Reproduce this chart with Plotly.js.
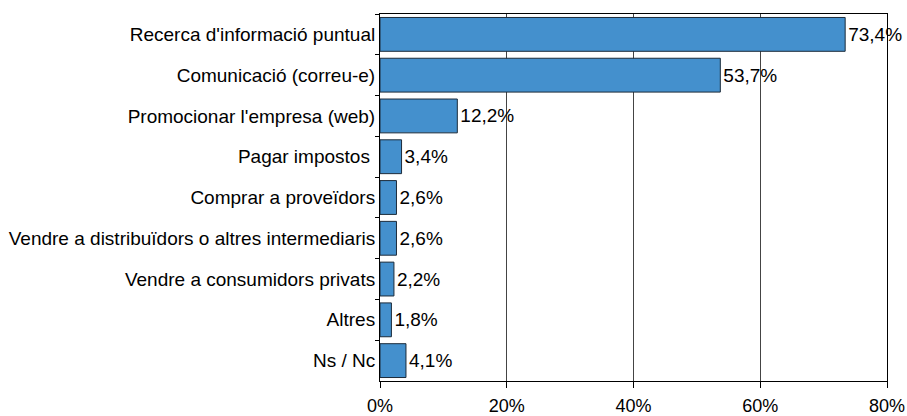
<!DOCTYPE html>
<html><head><meta charset="utf-8">
<script src="https://cdn.plot.ly/plotly-3.0.1.min.js"></script>
<style>html,body{margin:0;padding:0;background:#fff}#c{width:907px;height:416px}</style>
</head><body><div id="c"></div>
<script>
var categories = ["Recerca d'informació puntual","Comunicació (correu-e)","Promocionar l'empresa (web)","Pagar impostos ","Comprar a proveïdors","Vendre a distribuïdors o altres intermediaris","Vendre a consumidors privats","Altres","Ns / Nc"];
var values = [73.4, 53.7, 12.2, 3.4, 2.6, 2.6, 2.2, 1.8, 4.1];
var valueLabels = ["73,4%","53,7%","12,2%","3,4%","2,6%","2,6%","2,2%","1,8%","4,1%"];
var xTickVals = [0, 20, 40, 60, 80];
var xTickText = ["0%","20%","40%","60%","80%"];

Plotly.newPlot('c', [{
  type: 'bar', orientation: 'h',
  y: categories, x: values, text: valueLabels,
  textposition: 'outside', cliponaxis: false,
  textfont: {family: 'Liberation Sans, Arial, sans-serif', size: 19, color: '#000'},
  marker: {color: '#4490cd', line: {color: '#1c2b3a', width: 1}},
  hoverinfo: 'none'
}], {
  width: 907, height: 416,
  margin: {l: 380, r: 20, t: 14, b: 35},
  paper_bgcolor: '#fff', plot_bgcolor: '#fff',
  bargap: 0.17,
  showlegend: false,
  font: {family: 'Liberation Sans, Arial, sans-serif', color: '#000'},
  xaxis: {
    range: [0, 80], tickvals: xTickVals, ticktext: xTickText,
    ticks: 'outside', ticklen: 6, tickcolor: '#000', tickwidth: 1,
    showgrid: true, gridcolor: '#444', gridwidth: 1,
    showline: true, linecolor: '#000', linewidth: 1, mirror: true,
    zeroline: false, tickfont: {size: 18}, ticklabelstandoff: 2, fixedrange: true
  },
  yaxis: {
    autorange: 'reversed', type: 'category',
    ticks: 'outside', ticklen: 4, tickcolor: '#000', tickson: 'boundaries',
    showline: true, linecolor: '#000', linewidth: 1, mirror: true,
    showgrid: false, tickfont: {size: 19}, fixedrange: true
  }
}, {displayModeBar: false, staticPlot: true});
</script></body></html>
